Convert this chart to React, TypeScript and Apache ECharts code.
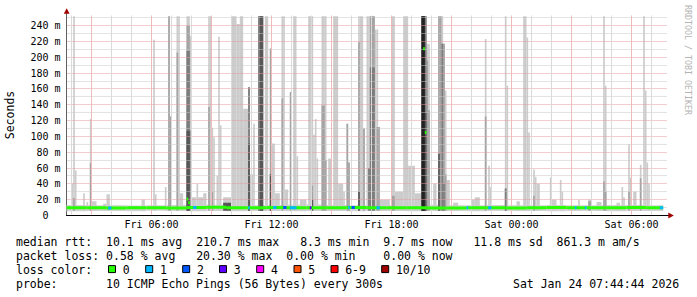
import { useEffect, useRef } from 'react';
import * as echarts from 'echarts';

// ---------------- data ----------------
const startHour = 1.75; // Fri 01:45, first 5-minute step
const endHour = 31.75; // Sat 07:45
const lastStep = 358; // 5-minute steps with data

const xTickHours = [6, 12, 18, 24, 30];
const xTickLabels = ['Fri 06:00', 'Fri 12:00', 'Fri 18:00', 'Sat 00:00', 'Sat 06:00'];
const yMax = 252.8; // ms at top of plot

// median rtt (ms), one value per hour
const medianHourly = [9.8, 9.7, 9.6, 9.9, 9.8, 9.6, 10.1, 10.3, 9.9, 9.7, 10.0, 9.8, 9.7, 9.9, 10.2,
  9.8, 9.7, 9.9, 9.6, 9.5, 9.8, 9.7, 9.6, 9.9, 10.0, 9.8, 9.7, 9.9, 10.2, 9.8];
// light smoke band around the median (ms), one value per hour
const smokeLowHourly = [5.5, 5.8, 5.6, 5.5, 5.9, 5.6, 5.4, 5.7, 5.5, 5.8, 5.6, 5.5, 5.7, 5.6, 5.4,
  5.8, 5.6, 5.5, 5.7, 5.6, 5.5, 5.8, 5.6, 5.7, 5.5, 5.6, 5.8, 5.5, 5.6, 5.7];
const smokeHighHourly = [13.2, 12.8, 13.0, 12.6, 12.9, 13.4, 13.1, 13.6, 13.0, 12.8, 13.3, 13.5, 13.8, 13.2, 13.0,
  13.4, 12.9, 13.1, 13.6, 13.0, 12.8, 13.2, 12.9, 13.1, 13.3, 12.8, 13.0, 13.2, 13.4, 12.9];

// median values that leave the baseline: [step, ms]
const medianSpikes: [number, number][] = [[72, 21], [73, 16], [214, 210.7], [215, 105]];
// steps with packet loss: [step, steps, lost pings]
const lossSpots: [number, number, number][] = [
  [25, 2, 1], [76, 2, 1], [109, 1, 1], [124, 2, 1], [130, 2, 2], [134, 4, 1], [146, 1, 3], [169, 1, 1],
  [171, 2, 2], [186, 2, 1], [240, 1, 1], [253, 2, 1], [305, 1, 1], [311, 1, 1], [356, 2, 1],
];
// smoke: [step, steps, top of shade 1 (lightest) .. shade 5 (darkest)] in ms
const smoke: number[][] = [
  [3, 1, 40], [4, 1, 252, 22], [5, 1, 57], [10, 1, 28], [12, 1, 17], [14, 1, 122, 66], [15, 3, 18],
  [22, 2, 15], [24, 2, 27], [45, 2, 20], [52, 1, 222], [53, 1, 27], [59, 1, 36], [61, 1, 252, 252],
  [62, 1, 125, 125], [66, 1, 252, 206], [67, 1, 252], [68, 2, 28], [72, 2, 252, 240, 208, 107],
  [74, 1, 227, 107], [75, 3, 23], [78, 1, 40], [79, 3, 23], [82, 2, 28], [85, 1, 252, 137], [86, 1, 252],
  [87, 1, 111, 30], [88, 1, 99], [90, 1, 50], [91, 1, 226], [92, 1, 114], [94, 5, 23, 0, 0, 16],
  [99, 3, 252], [102, 2, 242], [104, 2, 252], [106, 3, 135], [109, 1, 162, 162, 162, 91], [110, 2, 52],
  [112, 1, 116], [115, 1, 252, 252, 252], [116, 2, 252, 252, 252, 252], [119, 2, 252],
  [122, 1, 211, 211, 52, 52], [123, 2, 91], [125, 3, 28], [129, 1, 252, 148], [130, 1, 252], [131, 2, 33],
  [134, 1, 156, 156], [136, 2, 252], [138, 1, 75], [140, 4, 20], [145, 2, 252], [147, 1, 252, 38, 0, 20],
  [148, 1, 102], [149, 1, 122], [150, 1, 72], [153, 2, 252, 139], [155, 1, 252, 70], [157, 2, 72],
  [160, 3, 252], [163, 3, 40], [166, 1, 30], [168, 1, 116, 116], [169, 1, 67, 67], [175, 1, 252, 219, 0, 30],
  [176, 2, 252], [178, 1, 110, 110], [180, 1, 252], [181, 1, 252, 60, 60], [182, 3, 252, 252, 187],
  [185, 1, 235], [186, 1, 235, 112], [187, 1, 112, 112], [188, 6, 20], [195, 2, 252, 25], [197, 5, 30],
  [202, 3, 252], [205, 4, 63], [209, 4, 28], [213, 2, 252, 252, 252, 252, 252], [215, 1, 252, 252, 252, 130],
  [216, 1, 217, 196], [217, 1, 217, 133], [220, 2, 40], [223, 1, 252, 252, 0, 78], [224, 1, 252, 252],
  [225, 1, 252, 217, 217], [226, 1, 217, 217, 40], [227, 1, 158, 52], [228, 2, 45], [232, 3, 16],
  [243, 2, 20], [245, 3, 23], [251, 1, 223, 125], [253, 1, 63], [254, 1, 36], [263, 1, 252, 34, 34],
  [264, 1, 164], [270, 2, 18], [274, 2, 252], [276, 1, 225], [277, 1, 105], [280, 1, 58, 25], [281, 1, 49],
  [282, 2, 40], [290, 1, 48], [291, 3, 20], [296, 1, 45], [297, 1, 30], [307, 1, 20], [313, 2, 20, 18],
  [318, 3, 17], [322, 1, 252, 43], [323, 1, 164, 30], [330, 2, 16], [333, 1, 36], [334, 1, 23],
  [337, 1, 90, 30], [338, 1, 48], [340, 2, 30], [344, 1, 64, 47], [346, 1, 252], [347, 1, 158],
  [348, 1, 67], [349, 1, 40],
];
const smokeBase = 6;

// grid line values
const gridHours: number[] = [];
for (let h = 2; h <= 31; h++) gridHours.push(h);
const gridMs: number[] = [];
for (let v = 10; v <= 250; v += 10) gridMs.push(v);

// legend texts
const statLine1: [number, string][] = [[0, 'median rtt:'], [13, '10.1 ms avg'], [26, '210.7 ms max'],
  [41, '8.3 ms min'], [53, '9.7 ms now'], [66, '11.8 ms sd'], [78, '861.3 m am/s']];
const statLine2: [number, string][] = [[0, 'packet loss:'], [13, '0.58 % avg'], [26, '20.30 % max'],
  [39, '0.00 % min'], [53, '0.00 % now']];
const statLine4: [number, string][] = [[0, 'probe:'], [13, '10 ICMP Echo Pings (56 Bytes) every 300s']];
const lossLegendLabels = ['0', '1', '2', '3', '4', '5', '6-9', '10/10'];
const stampText = 'Sat Jan 24 07:44:44 2026';

// ---------------- styles / layout ----------------
const MONO = '"DejaVu Sans Mono", "Liberation Mono", monospace';
const shadeColors = ['#cccccc', '#a4a4a4', '#7c7c7c', '#575757', '#222222'];
const baseShade = '#d2d2d2';
const lossColors = ['#26ff00', '#00b8ff', '#0059ff', '#5e00ff', '#ff00ff', '#ff5500', '#ff0000', '#a10000'];
const majorGrid = '#e69a9a';
const minorGrid = '#c6c6c6';
const majorGridV = '#eebbbb';
const minorGridV = '#dadada';
const arrowColor = '#a00000';
const legendBoxX = [108.5, 145.7, 182.7, 219.5, 256.7, 294, 331, 381.7];
const textX0 = 16;
const charW = 6.93;
const lineY = [242.3, 256.2, 270.1, 283.9];
const GRID = { left: 66.5, right: 30.5, top: 15.5, bottom: 81.5 };
const W = 697;
const H = 297;

const stepHour = (s: number) => startHour + s / 12;
const snap = (v: number) => Math.round(v - 0.5) + 0.5;

function buildGraphics(chart: any) {
  const txt = (x: number, y: number, text: string, extra: any = {}) => ({
    type: 'text', x, y, silent: true,
    style: {
      text, fill: '#000', font: `11.5px ${MONO}`, fontFamily: MONO, fontSize: 11.5,
      align: 'left', verticalAlign: 'middle', textAlign: 'left', textVerticalAlign: 'middle', ...extra,
    },
  });
  const graphics: any[] = [];
  // vertical grid lines, placed through the chart's x scale
  const plotTop = GRID.top;
  const plotBot = H - GRID.bottom;
  for (const h of gridHours) {
    let px: number | undefined;
    try {
      const p = chart.convertToPixel({ xAxisIndex: 0 }, h);
      if (typeof p === 'number' && isFinite(p)) px = p;
    } catch (e) { /* ignore */ }
    if (px === undefined) {
      px = GRID.left + ((h - startHour) / (endHour - startHour)) * (W - GRID.left - GRID.right);
    }
    graphics.push({
      type: 'rect', silent: true, z: 4,
      shape: { x: Math.round(px - 0.5), y: plotTop, width: 1, height: plotBot - plotTop - 1 },
      style: { fill: h % 3 === 0 ? majorGridV : minorGridV },
    });
  }
  const addLine = (segs: [number, string][], y: number) => {
    for (const [c, t] of segs) graphics.push(txt(textX0 + c * charW, y, t));
  };
  addLine(statLine1, lineY[0]);
  addLine(statLine2, lineY[1]);
  graphics.push(txt(textX0, lineY[2], 'loss color:'));
  lossLegendLabels.forEach((lab, i) => {
    graphics.push({
      type: 'rect', silent: true,
      shape: { x: legendBoxX[i], y: lineY[2] - 4.5, width: 7, height: 7 },
      style: { fill: lossColors[i], stroke: '#000', lineWidth: 1 },
    });
    graphics.push(txt(legendBoxX[i] + 14.2, lineY[2], lab));
  });
  addLine(statLine4, lineY[3]);
  graphics.push(txt(513, lineY[3], stampText));
  const sec: any = txt(10, 115, 'Seconds', { align: 'center', textAlign: 'center' });
  sec.rotation = Math.PI / 2;
  graphics.push(sec);
  graphics.push({
    type: 'text', x: 687.5, y: 60, rotation: -Math.PI / 2, silent: true,
    style: {
      text: 'RRDTOOL / TOBI OETIKER', fill: '#b4b4b4', font: `8.3px ${MONO}`, fontFamily: MONO, fontSize: 8.3,
      align: 'center', verticalAlign: 'middle', textAlign: 'center', textVerticalAlign: 'middle',
    },
  });
  // axis arrows
  graphics.push({ type: 'rect', silent: true, shape: { x: 66, y: 12, width: 1, height: 4 }, style: { fill: '#606060' } });
  graphics.push({ type: 'polygon', silent: true, shape: { points: [[63.8, 13.8], [69.6, 13.8], [66.7, 8.3]] }, style: { fill: arrowColor } });
  graphics.push({ type: 'rect', silent: true, shape: { x: 666, y: 215, width: 4, height: 1 }, style: { fill: '#000' } });
  graphics.push({ type: 'polygon', silent: true, shape: { points: [[668.3, 212.6], [668.3, 218.4], [673.8, 215.5]] }, style: { fill: arrowColor } });
  return graphics;
}

function buildOption() {
  // smoke rectangles
  const smokeItems: number[][] = [];
  for (let h = 0; h < medianHourly.length; h++) {
    const s = h * 12;
    const e = Math.min(s + 12, lastStep);
    if (e > s) smokeItems.push([stepHour(s), stepHour(e), smokeLowHourly[h], smokeHighHourly[h], -1]);
  }
  for (let lvl = 0; lvl < 5; lvl++) {
    for (const row of smoke) {
      const top = row[2 + lvl];
      if (top && top > 0) smokeItems.push([stepHour(row[0]), stepHour(row[0] + row[1]), smokeBase, top, lvl]);
    }
  }
  // median rectangles
  const medItems: number[][] = [];
  for (let h = 0; h < medianHourly.length; h++) {
    const s = h * 12;
    const e = Math.min(s + 12, lastStep);
    if (e > s) medItems.push([stepHour(s), stepHour(e), medianHourly[h], 0]);
  }
  for (const [s, n, loss] of lossSpots) {
    medItems.push([stepHour(s), stepHour(s + n), medianHourly[Math.floor(s / 12)], loss]);
  }
  for (const [s, v] of medianSpikes) medItems.push([stepHour(s), stepHour(s + 1), v, 0]);

  const hGridItems: number[][] = gridMs.map((v) => [startHour, v, endHour, v, v % 20 === 0 ? 1 : 0]);

  return {
    animation: false,
    backgroundColor: '#ffffff',
    grid: { ...GRID, containLabel: false },
    xAxis: {
      type: 'value', min: startHour, max: endHour,
      axisLine: { show: true, lineStyle: { color: '#000', width: 1 } },
      axisTick: { show: false },
      splitLine: { show: false },
      axisLabel: {
        customValues: xTickHours,
        formatter: (v: number) => { const i = xTickHours.indexOf(Math.round(v)); return i >= 0 ? xTickLabels[i] : ''; },
        fontFamily: MONO, fontSize: 10, color: '#000', margin: 4,
      },
    },
    yAxis: {
      type: 'value', min: 0, max: yMax, interval: 10,
      axisLine: { show: true, lineStyle: { color: '#606060', width: 1 } },
      axisTick: { show: false },
      splitLine: { show: false },
      axisLabel: {
        showMaxLabel: false,
        formatter: (v: number) => (v % 20 !== 0 ? '' : v === 0 ? '{z|0}' : `${v} m`),
        fontFamily: MONO, fontSize: 10, color: '#000', margin: 6,
        rich: { z: { fontFamily: MONO, fontSize: 10, color: '#000', padding: [0, 12, 0, 0] } },
      },
    },
    series: [
      {
        type: 'custom', name: 'smoke', silent: true, clip: true, z: 2,
        encode: { x: [0, 1], y: [2, 3] },
        data: smokeItems,
        renderItem: (_p: any, api: any) => {
          const a = api.coord([api.value(0), api.value(3)]);
          const b = api.coord([api.value(1), api.value(2)]);
          const lvl = api.value(4);
          return {
            type: 'rect',
            shape: { x: a[0], y: a[1], width: b[0] - a[0], height: b[1] - a[1] },
            style: { fill: lvl < 0 ? baseShade : shadeColors[lvl] },
          };
        },
      },
      {
        type: 'custom', name: 'hgrid', silent: true, clip: false, z: 4,
        encode: { x: [0, 2], y: [1, 3] },
        data: hGridItems,
        renderItem: (_p: any, api: any) => {
          const l = api.coord([api.value(0), api.value(1)]);
          const r = api.coord([api.value(2), api.value(3)]);
          const y = snap(l[1]);
          return {
            type: 'line',
            shape: { x1: l[0] + 1, y1: y, x2: r[0], y2: y },
            style: { stroke: api.value(4) ? majorGrid : minorGrid, lineWidth: 1, lineDash: [1, 1], fill: null },
          };
        },
      },
      {
        type: 'custom', name: 'median', silent: true, clip: true, z: 6,
        encode: { x: [0, 1], y: 2 },
        data: medItems,
        renderItem: (_p: any, api: any) => {
          const a = api.coord([api.value(0), api.value(2)]);
          const b = api.coord([api.value(1), api.value(2)]);
          return {
            type: 'rect',
            shape: { x: a[0], y: a[1] - 1.5, width: b[0] - a[0], height: 3 },
            style: { fill: lossColors[api.value(3)] },
          };
        },
      },
    ],
  };
}

export default function App() {
  const ref = useRef<HTMLDivElement>(null);
  useEffect(() => {
    const chart = echarts.init(ref.current!, null, { renderer: 'svg' });
    chart.setOption(buildOption() as any);
    chart.setOption({ graphic: { elements: buildGraphics(chart) } } as any);
    return () => chart.dispose();
  }, []);
  return <div ref={ref} style={{ position: 'absolute', left: 0, top: 0, width: W, height: H }} />;
}
